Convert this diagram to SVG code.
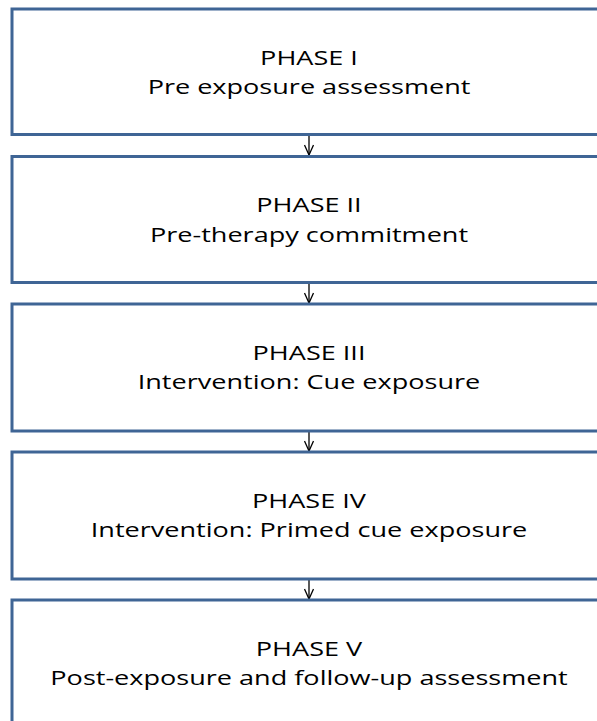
<svg xmlns="http://www.w3.org/2000/svg" width="597" height="721" viewBox="0 0 597 721">
<style>
.box{fill:#fff;stroke:#3F6595;stroke-width:3}
.t{font-family:"Open Sans","Noto Sans","DejaVu Sans",sans-serif;font-size:20.5px;fill:#000;text-anchor:middle}
.c{stroke:#000;stroke-width:1.3;fill:none}
</style>
<defs>
<marker id="ah" viewBox="0 0 12 10" refX="11" refY="5" markerWidth="12" markerHeight="10" markerUnits="userSpaceOnUse" orient="auto">
<path d="M1,0.5 L11,5 L1,9.5" fill="none" stroke="#000" stroke-width="1.3"/>
</marker>
</defs>
<rect width="597" height="721" fill="#fff"/>
<g id="connectors">
<line class="c" x1="309" y1="135" x2="309" y2="155" marker-end="url(#ah)"/>
<line class="c" x1="309" y1="283" x2="309" y2="303" marker-end="url(#ah)"/>
<line class="c" x1="309" y1="431" x2="309" y2="451" marker-end="url(#ah)"/>
<line class="c" x1="309" y1="579" x2="309" y2="599" marker-end="url(#ah)"/>
</g>
<g id="phase1">
<rect class="box" x="12" y="9" width="596" height="125.5"/>
<g transform="translate(309 0) scale(1.32 1)">
<text class="t" x="0" y="65">PHASE I</text>
<text class="t" x="0" y="94.5">Pre exposure assessment</text>
</g>
</g>
<g id="phase2">
<rect class="box" x="12" y="156.5" width="596" height="126"/>
<g transform="translate(309 0) scale(1.32 1)">
<text class="t" x="0" y="212.5">PHASE II</text>
<text class="t" x="0" y="242">Pre-therapy commitment</text>
</g>
</g>
<g id="phase3">
<rect class="box" x="12" y="304" width="596" height="127"/>
<g transform="translate(309 0) scale(1.32 1)">
<text class="t" x="0" y="360">PHASE III</text>
<text class="t" x="0" y="389.5">Intervention: Cue exposure</text>
</g>
</g>
<g id="phase4">
<rect class="box" x="12" y="452" width="596" height="127"/>
<g transform="translate(309 0) scale(1.32 1)">
<text class="t" x="0" y="508">PHASE IV</text>
<text class="t" x="0" y="537.5">Intervention: Primed cue exposure</text>
</g>
</g>
<g id="phase5">
<rect class="box" x="12" y="600" width="596" height="127"/>
<g transform="translate(309 0) scale(1.32 1)">
<text class="t" x="0" y="656">PHASE V</text>
<text class="t" x="0" y="685.5">Post-exposure and follow-up assessment</text>
</g>
</g>
</svg>
